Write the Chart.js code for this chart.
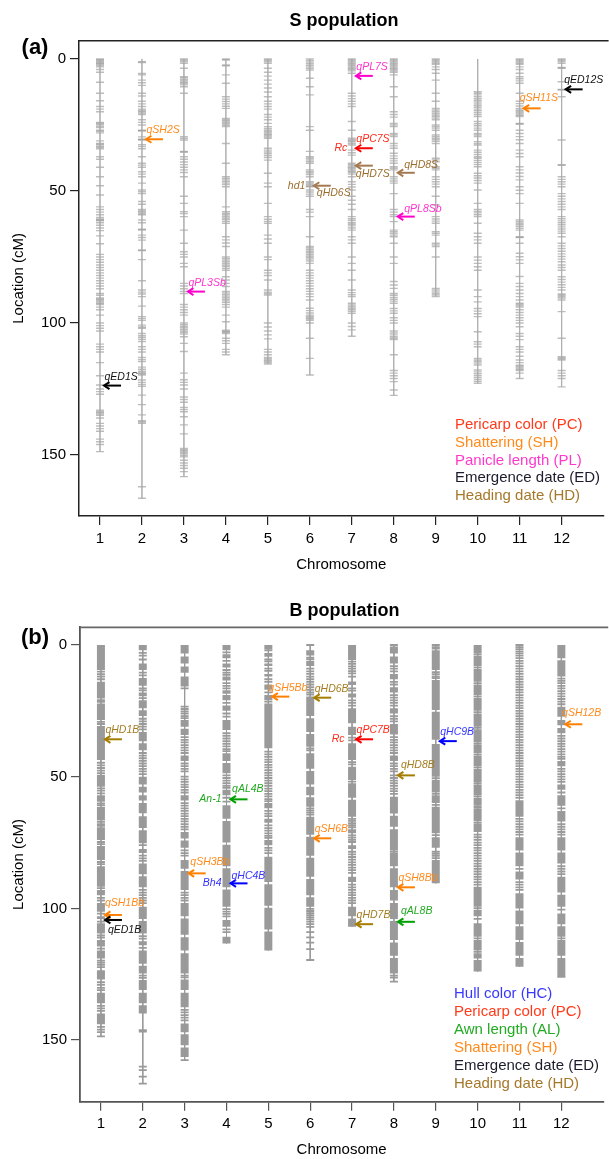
<!DOCTYPE html>
<html>
<head>
<meta charset="utf-8">
<script src="https://cdn.jsdelivr.net/npm/chart.js@4.4.1/dist/chart.umd.min.js"></script>
<style>
  html, body { margin: 0; padding: 0; background: #fff; }
  #wrap { position: relative; width: 609px; height: 1159px; overflow: hidden; }
  canvas { position: absolute; left: 0; }
  #cs { top: 0; }
  #cb { top: 590px; }
</style>
</head>
<body>
<div id="wrap">
  <canvas id="cs" width="609" height="590"></canvas>
  <canvas id="cb" width="609" height="569"></canvas>
</div>
<script>
const chromosomes = [1, 2, 3, 4, 5, 6, 7, 8, 9, 10, 11, 12];
const yTicks = [0, 50, 100, 150];

// S population: marker positions (cM) per chromosome
const sChr1 = [0,0.4,0.8,1.2,1.6,2,2.5,3,4,5,8.8,13,15.8,18,19,20,24,24.4,24.8,25.5,26,27,27.4,28,31,32,32.4,33,33.4,34,37,38,41,44.6,48,51.5,56,57,58,59,60,60.6,61,61.3,62,63,64,65,67,70,74,75,76,77,78,79,80,81,82,83,84,85,86,87,88.8,89.5,90.5,91,91.5,92,92.5,93,94,95,97,100,101,102,103,108,109,110,111,115,120,123.5,125,126,127,133,133.5,134,134.5,135,136,138,139,140,141,144,145,146,148.7];
const sChr2 = [1,1.3,5.5,6,8,9,10,13,14,16,17,18,19,19.5,20,20.5,21,23,24,25,27,27.3,29.5,30.4,30.7,32.5,33.2,34,37,39.5,40.2,41,42.7,43.6,44.6,47,49.6,50.3,51,54,55,57,57.6,58,58.5,59,61,62,64.5,64.8,66.7,67.6,68.6,72.3,72.6,76,84,87.5,88.3,89,90,93.6,97.6,98.3,99,100.8,101.5,102,104,104.8,105.5,106.2,107,109,110,111,113,113.8,114.6,116.7,117.5,118.3,118.8,119.2,119.7,121.6,122.5,123.3,124,127.3,130.9,134.8,137,137.5,138,162,166.4];
const sChr3 = [0,0.5,1,1.6,3.5,6.7,7.2,7.8,8.3,8.8,9.3,9.8,10.5,13,29.4,30,30.7,35,35.3,37,38,39,40,41,42,43,44.6,52,54.7,57.8,58.5,59.7,64.8,69.8,73,74,75,77.4,78.7,85,86,87,88,88.8,93,94,95,96,97,100,100.6,101.2,101.8,102.4,103,103.6,104.2,105.2,107.7,110.8,119,121.5,122.5,123.5,125,128,129,130,132,132.8,133.6,135.5,138.6,142,147.5,148,148.5,149,149.5,150.2,150.7,152,153,154,155,156.3,158.2];
const sChr4 = [0,0.4,2.3,2.6,6,9.2,14.3,15.2,16.1,17,17.9,18.7,22.5,23,23.5,24,24.5,25.1,25.6,32,39.5,44.6,45.2,45.8,46.4,47,47.6,48.4,56,57.8,58.4,59,59.6,60.2,60.8,61.5,62.2,67.3,68.5,69.7,71,75,75.6,76.2,76.8,77.4,78,78.6,79.3,80,82.5,83.7,85,86.2,88,88.6,89.2,89.8,90.4,91,91.6,92.2,93,94,97,99.5,102.7,103.1,103.5,104,105.8,106.7,107.7,110,111,112];
const sChr5 = [0,0.5,1,1.6,3.5,5,6.5,8,9.5,11,12.5,14.3,16,17,18,19,21,22,23,24.4,25.6,26.3,27,27.5,28,28.5,29,29.5,30,33.8,34.5,35.2,35.9,36.6,37.3,38.3,43.3,47,48.4,54.7,59.7,60.7,61.5,62.2,66.7,68.2,69.8,75,76,80,81,82,83.7,87.5,88.3,88.8,89.4,100,101.5,103,104.5,106,110,111,112,113,113.5,114,114.5,115,115.5];
const sChr6 = [0,0.6,1.2,1.8,2.4,3,3.6,4.2,7.3,10.5,13.6,25.6,27,35,37,37.6,38.2,38.8,39.5,42,42.6,43.2,43.8,44.6,46.5,47,47.5,48,48.4,49.6,50.4,51.2,52,57,58,59.7,67.3,71,71.6,72.2,72.8,73.4,74,74.6,75.2,75.8,76.5,77.4,80,81,82,83,84,85,86,87,88,89,90,91.3,94.4,95.3,96.2,97,97.5,98,98.5,99,100,105.8,113.4,119.7];
const sChr7 = [0,0.5,1,1.5,2,2.5,3,3.5,4,4.5,5.4,13,14,15,16,17,18,23.7,27,30,30.6,31,31.4,32,32.6,34.5,35.5,36.4,39.5,40,40.5,41,41.5,42,42.5,43,43.6,44.6,46.5,47.5,48.5,49.6,52,53.5,55,57,59.7,60.5,61.2,62,62.6,63.2,64,64.8,67.3,68.5,69.8,75,77.4,80,83.7,87.5,88.5,89.3,90,92.5,93.2,93.8,94.4,95,95.6,96.3,100,101.3,102.6,105];
const sChr8 = [0,0.5,1,1.5,2,2.5,3,3.5,4,4.5,5,6,10.5,14.3,20,21,22,24.4,25,25.6,28.2,28.8,29.4,32,32.9,33.8,35.7,36.7,37.7,38.6,39.5,40.8,41.4,42,44.6,45.4,46.2,47,51,57,58,59,59.7,61.6,64.8,65.4,66,66.7,67.3,69.8,75,77.4,84.3,85.6,86.9,88.8,89.5,90.3,91,91.7,92.5,94.5,95.4,96.3,98,99,100,103,103.8,104.5,105.2,105.8,106.3,112,118,119,120,121,122.2,125.4,127.4];
const sChr9 = [0,0.5,1,1.5,2,3,4,5.4,8,13,16,18.7,19.3,20,20.6,21.2,21.8,22.4,23,25,25.6,26.2,27,28.8,29.4,30,30.6,31.2,32,37.6,38.2,38.9,40.8,41.4,42,44.6,45.6,46.5,47.4,48.4,52,55.3,59.7,60.6,61.4,62.2,65.4,66,66.7,69.8,70.4,71,75,86.9,87.5,88.2,88.8,89.4,90];
const sChr10 = [12.4,13,13.6,14.3,15,15.6,16.3,17,17.6,18.3,19,19.6,20.3,21,21.8,23.7,24.5,25.3,26.2,27,28.2,28.8,29.4,31.3,32,32.6,34.5,35.3,36.2,37,37.6,38.4,39.2,40,40.8,43.3,44.2,45.1,46,47,49.6,54.7,57,57.7,58.3,59,59.7,62.2,66,67.3,68.5,69.8,75,76.2,77.4,78.7,80,87.5,90,92,94.5,95.5,96.5,97.6,103.3,107.1,108,109,113.4,114,114.6,115.2,115.9,117.8,118.5,119.2,120,120.7,121.4,122.1,122.8];
const sChr11 = [0,0.5,1,1.5,2,3,4,5.4,6.7,7.5,8.3,9.2,13,16,16.9,17.8,18.7,19.3,19.8,20.3,20.8,21.3,21.8,24.4,24.7,27,28.2,29.4,30.6,32,34.5,35.8,37,40.8,42,43.2,44.5,45.8,48.4,49.7,51,54.7,61,61.6,62.2,62.8,63.4,64.1,64.8,67.3,67.6,69.8,73.6,74.9,76.1,77.4,82.4,85,86.2,87.5,88.8,90,91.3,92.5,93,93.5,94,95,96,97,98,99,100,101.4,104,105,106.3,109,110,111,112.6,114,115,116,116.5,117,117.5,118,119,121];
const sChr12 = [0,0.5,1,1.6,3.2,3.5,8.6,11.5,11.8,14.3,30.7,40,40.3,44.6,45.6,46.5,47.4,48.4,51,52,53,54,55,56,57,59.7,60.5,61.3,62,62.8,63.6,64.4,65.2,66,67.3,69.8,70.8,71.8,72.8,73.8,74.8,75.8,76.8,78,79,80,82.5,83.5,84.5,85.5,86.5,87.5,89,89.5,90,90.5,91.3,95.7,105.8,112.8,113.2,113.6,114,118,119,120,121,124.2];
const sMaps = [sChr1, sChr2, sChr3, sChr4, sChr5, sChr6, sChr7, sChr8, sChr9, sChr10, sChr11, sChr12];

// S population QTLs
const sQtlName  = ['qSH2S', 'qPL3Sb', 'qPL7S', 'qPC7S', 'qHD7S', 'qHD6S', 'qHD8S', 'qPL8Sb', 'qSH11S', 'qED12S', 'qED1S'];
const sQtlChr   = [2, 3, 7, 7, 7, 6, 8, 8, 11, 12, 1];
const sQtlPos   = [30.4, 88.1, 6.4, 33.8, 40.4, 48.0, 43.1, 59.7, 18.7, 11.5, 123.7];
const sQtlTrait = ['SH', 'PL', 'PL', 'PC', 'HD', 'HD', 'HD', 'PL', 'SH', 'ED', 'ED'];
const sQtlGene  = ['', '', '', 'Rc', '', 'hd1', '', '', '', '', ''];
const sLegend = ['Pericarp color (PC)', 'Shattering (SH)', 'Panicle length (PL)', 'Emergence date (ED)', 'Heading date (HD)'];
const sLegendTrait = ['PC', 'SH', 'PL', 'ED', 'HD'];

// B population: solid marker blocks [start, end] and single markers (cM)
const bChr1Blocks = [[0,9.5],[14,20.3],[22.2,28.5],[30.8,43.7],[49.4,53.8],[57,59.5],[61.4,66.5],[69.2,74],[76.3,81.6],[84,91.8],[93,95],[98,101.3],[103,104],[105.6,109.5],[112,114.5],[116,119],[123.5,127],[132,136],[139.9,144]];
const bChr1Marks = [10.1,11.1,12,13,20.9,21.6,29.2,30,44.7,45.7,46.7,47.7,48.7,54.4,55.3,56.3,60.1,60.8,67.1,68,68.7,74.8,75.6,82.4,83.2,92.3,96,97,102,105,110.3,111.1,115.3,119.8,120.6,121.4,122.3,128,129,130.2,131,137,138,138.9,145,146,147,148.6];
const bChr2Blocks = [[0,2],[7,9.5],[12.5,15.5],[18,19.5],[21,24],[24.8,27],[33,36.5],[37.3,40],[50,53],[53.8,56],[57,59],[60,63.9],[65,69.5],[70.3,75.3],[77.5,79],[83,87],[87.8,92],[99.4,104],[104.8,109.5],[112.5,114],[116,121],[121.8,124.7],[127.2,131],[132,136],[136.8,139.9]];
const bChr2Marks = [3,4,5.5,10.5,11.5,16.5,17.2,20.2,28,29,30,31,32,41,42,43,44,45,46,47,48,49,76,80,81,82,93,94,95,96,97,98,110.5,111.5,115,125.5,126.4,146.2,146.8,160.1,161.4,163.9,166.5];
const bChr3Blocks = [[0,3.2],[4.4,7],[8.2,10.5],[12,15.8],[28.5,31],[31.8,34.2],[42,44],[57,59],[71,73.5],[74.2,77],[81.6,85],[85.8,93],[98,103],[103.8,110],[111,116],[117,124.7],[127,131],[132,137.5],[143.7,147],[147.8,152],[152.8,156.4]];
const bChr3Marks = [16.5,23.4,24.3,25.2,26,27,27.8,35,36,37,38,39,40,41,45,46,47,48,50,51,52,53,54,55,56,60,61,62,63,64,65,66,67,68,69,70,78,79,80,94,95,96,97,125.5,126.2,138.5,139.5,140.5,141.5,142.5,157.6];
const bChr4Blocks = [[0,2],[3.5,5],[7,8.5],[12,13.5],[19,21],[23,25],[28.5,32.3],[41.1,44],[44.8,48.7],[55,57],[60.8,66],[66.8,75],[75.8,84],[84.8,92],[92.8,99.4],[104.4,107],[110.8,113.3]];
const bChr4Marks = [2.8,6,9.5,10.5,11.3,14.5,15.5,16.5,17.5,18.2,22,26,27.2,33.5,34.5,35.5,36.5,37.5,38.5,39.5,40.3,49.5,50.5,51.5,52.5,53.5,54.2,58,59.5,100.3,101.2,102.1,103,108,109];
const bChr5Blocks = [[0,1.5],[3,4.5],[7,8],[11,12],[15,17],[19,21],[22.2,39.2],[60,62],[66,67.5],[74,76],[80.4,90],[90.8,99],[99.8,108],[108.8,116]];
const bChr5Marks = [2,5.5,6.2,9,9.8,13,14,18,21.5,40.5,41.5,42.5,43.5,44.5,45.5,46.5,47.5,48.5,49.5,50.5,51.5,52.5,53.5,54.5,55.5,56.5,57.5,58.5,59.3,63,64,65,68.5,69.5,70.5,71.5,72.5,73.2,77,78,79];
const bChr6Blocks = [[2,4],[6,8],[19.6,27],[27.8,33],[33.8,38.6],[41.1,47],[47.8,53],[53.8,57],[57.8,61.4],[65.2,72],[72.8,80],[80.8,88],[88.8,95],[95.8,99.4]];
const bChr6Marks = [0,4.8,5.4,9,10,11,12,13,14,15,16,17,18,18.8,39.3,40,62,62.8,63.6,64.4,100.2,101,101.8,102.6,103.4,104.2,105,106,107,109,111,113,115.5,119.6];
const bChr7Blocks = [[0,5.7],[13.9,15.2],[18.4,19.9],[24,29.7],[31,34.2],[37.3,43.7],[46.2,51.3],[52.5,58],[58.8,65.2],[70,71.5],[76,77.5],[88,90],[99.4,103],[103.8,107]];
const bChr7Marks = [6.3,7.2,8.1,9,9.9,10.8,12,16.5,17.3,21,22,23,35.2,36.2,44.5,45.3,51.9,66,66.8,67.6,68.4,69.2,72.3,73.1,74,74.8,78.5,79.5,80.5,81.5,82.5,83.5,84.5,85.5,86.5,91,92,93,94,95,96,97,98];
const bChr8Blocks = [[0.6,3.2],[4.4,7],[11,13],[16,18],[24,26],[30,34],[42,44],[57.6,64],[64.8,69],[70,78],[79,84],[84.8,92],[93,97],[98,104],[104.8,112],[113,118],[118.8,124.7]];
const bChr8Marks = [0,8,9,10,14,15,19,20,21,22,23,27,28,29,35,36,37,38,39,40,41,45,46,47,48,49.5,50.5,51.5,52.5,53.5,54.5,55.5,56.5,78.5,125.5,126.3,127.8];
const bChr9Blocks = [[2,9.5],[13.3,24.7],[25.3,36],[37.6,50],[51.3,56],[57,60],[61.4,71.5],[73,77],[81.6,90.5]];
const bChr9Marks = [0,0.8,1.4,10.3,11.1,12,12.6,50.6,56.5,60.7,72.2,78.5,79.3,80.1,80.9];
const bChr10Blocks = [[0,3],[4,8],[9,14],[15,19],[20,25],[26,31],[32,37],[38,41],[42,46],[47,52],[53,57],[58,61],[62,67],[68,71],[91.8,99.4],[100.5,103],[105.6,110.8],[112,116],[117,119],[119.6,124]];
const bChr10Marks = [3.5,8.5,14.5,19.5,25.5,31.5,37.5,41.5,46.5,52.5,57.5,61.5,67.5,72,73,74,75,76,77,78,79,80,81,82,83,84,85,86,87,88,89,90,91,99.9,104,111.4,116.5];
const bChr11Blocks = [[58.9,65.2],[73,78],[78.8,84],[86,89],[94.3,100],[100.8,106],[106.8,112],[112.8,118],[118.8,122.2]];
const bChr11Marks = [0,0.8,1.6,2.4,3.2,4,5,6,7,8,9,10,11,12,13,14,15,16,17,18,19,20,21,22,23,24,25,26,27,28,29,30,31,32,33,34,35,36,37,38,39,40,41,42,43,44,45,46,47,48,49,50,51,52,53,54,55,56,57,58,66,67,68,69,70,71,72,85,90,91,92,93];
const bChr12Blocks = [[0,5],[5.8,12],[23.4,27.2],[28.5,30.5],[31.5,33.5],[44,46],[53,55],[57,61],[63,67],[73,78],[78.8,83],[88,94],[94.8,99.4],[101.9,106],[106.8,110.8],[112,118],[118.8,125.9]];
const bChr12Marks = [12.8,13.6,14.5,15.5,16.5,17.5,18.5,19.5,20.5,21.5,22.5,34.5,35.5,36.5,37.5,38.5,39.5,40.5,41.5,42.5,43.2,47,48,49,50,51,52,56,62,68,69,70,71,72,84,85,86,87,100.5,111.4,126];
const bBlocks = [bChr1Blocks, bChr2Blocks, bChr3Blocks, bChr4Blocks, bChr5Blocks, bChr6Blocks, bChr7Blocks, bChr8Blocks, bChr9Blocks, bChr10Blocks, bChr11Blocks, bChr12Blocks];
const bMarks = [bChr1Marks, bChr2Marks, bChr3Marks, bChr4Marks, bChr5Marks, bChr6Marks, bChr7Marks, bChr8Marks, bChr9Marks, bChr10Marks, bChr11Marks, bChr12Marks];

// B population QTLs
const bQtlName  = ['qHD1B', 'qSH1Bb', 'qED1B', 'qSH3Bb', 'qAL4B', 'qHC4B', 'qSH5Bb', 'qHD6B', 'qSH6B', 'qPC7B', 'qHD7B', 'qHD8B', 'qSH8Bb', 'qAL8B', 'qHC9B', 'qSH12B'];
const bQtlChr   = [1, 1, 1, 3, 4, 4, 5, 6, 6, 7, 7, 8, 8, 8, 9, 12];
const bQtlPos   = [35.8, 102.5, 104.4, 86.7, 58.6, 90.5, 19.6, 20.0, 73.4, 35.8, 106.0, 49.5, 92.0, 105.1, 36.5, 30.1];
const bQtlTrait = ['HD', 'SH', 'ED', 'SH', 'AL', 'HC', 'SH', 'HD', 'SH', 'PC', 'HD', 'HD', 'SH', 'AL', 'HC', 'SH'];
const bQtlGene  = ['', '', '', '', 'An-1', 'Bh4', '', '', '', 'Rc', '', '', '', '', '', ''];
const bLegend = ['Hull color (HC)', 'Pericarp color (PC)', 'Awn length (AL)', 'Shattering (SH)', 'Emergence date (ED)', 'Heading date (HD)'];
const bLegendTrait = ['HC', 'PC', 'AL', 'SH', 'ED', 'HD'];

// ---- styles ----
const FONT = '"Liberation Sans", Arial, sans-serif';
Chart.defaults.font.family = FONT;
Chart.defaults.color = '#000';

const arrowColS = { PC: '#ff0000', SH: '#ff8000', PL: '#ff00cc', ED: '#000000', HD: '#a57a52', HC: '#0000ff', AL: '#00a000' };
const textColS  = { PC: '#ff2a1a', SH: '#ff8a1c', PL: '#ff33cc', ED: '#111111', HD: '#9a6c2c', HC: '#3333ff', AL: '#22aa22' };
const arrowColB = Object.assign({}, arrowColS, { HD: '#a57d00' });
const textColB  = Object.assign({}, textColS, { HD: '#a47c20' });
const legendCol = { PC: '#ff3a1a', SH: '#ff8a1c', PL: '#ff38cc', ED: '#1c1c2c', HD: '#a5782a', HC: '#3838ff', AL: '#22aa22' };

// label offsets relative to arrow tip anchor (chromosome x, QTL y)
const labelOffset = {
  qHD7S: [4, 8], qHD6S: [7, 7.5], qED1B: [7, 10.5], qHD8S: [10.5, -8], qPL8Sb: [10.5, -8],
  qSH11S: [0, -10], qED12S: [2.5, -9], qSH5Bb: [0, -9], qSH12B: [0.7, -11], qHD8B: [7, -10],
  qAL8B: [7, -10.7], qAL4B: [5.6, -10], qSH1Bb: [4, -11.5], qSH3Bb: [5.7, -11], qHC4B: [5, -7.5]
};
const geneOffset = { Rc: -4.5, hd1: -4.5, 'An-1': -5, Bh4: -5 };

function overlayPlugin(p) {
  return {
    id: 'overlay_' + p.letter,
    afterDatasetsDraw(chart) {
      const ctx = chart.ctx, xs = chart.scales.x, ys = chart.scales.y, a = chart.chartArea;
      ctx.save();
      // top border of the box
      ctx.strokeStyle = p.borderColor; ctx.lineWidth = p.borderWidth;
      ctx.beginPath(); ctx.moveTo(a.left, a.top); ctx.lineTo(a.right + 5, a.top); ctx.stroke();
      // QTL arrows + labels
      p.names.forEach((name, i) => {
        const px = xs.getPixelForValue(p.chr[i]);
        const py = ys.getPixelForValue(p.pos[i]);
        const t = p.trait[i];
        ctx.strokeStyle = p.arrowCol[t]; ctx.lineWidth = 2; ctx.lineCap = 'butt';
        ctx.beginPath(); ctx.moveTo(px + 21, py); ctx.lineTo(px + 5, py); ctx.stroke();
        ctx.beginPath(); ctx.moveTo(px + 9.5, py - 3.5); ctx.lineTo(px + 4, py); ctx.lineTo(px + 9.5, py + 3.5); ctx.stroke();
        ctx.font = 'italic 10.5px ' + FONT;
        ctx.fillStyle = p.textCol[t];
        ctx.textBaseline = 'middle';
        const off = labelOffset[name] || [4.5, -9];
        ctx.textAlign = 'left';
        ctx.fillText(name, px + off[0], py + off[1]);
        const g = p.gene[i];
        if (g) {
          ctx.textAlign = 'right';
          ctx.fillText(g, px + (g === 'Rc' && p.letter === '(b)' ? -7.5 : geneOffset[g]), py);
        }
      });
      // legend text
      ctx.font = '15px ' + FONT; ctx.textAlign = 'left'; ctx.textBaseline = 'middle';
      p.legend.forEach((txt, i) => {
        ctx.fillStyle = legendCol[p.legendTrait[i]];
        ctx.fillText(txt, p.legendX, p.legendY + i * p.legendStep);
      });
      // panel title and letter
      ctx.fillStyle = '#000'; ctx.textAlign = 'center';
      ctx.font = 'bold 18px ' + FONT;
      ctx.fillText(p.title, (a.left + 609) / 2, 20.7);
      ctx.font = 'bold 22px ' + FONT;
      ctx.fillText(p.letter, 35, 48);
      ctx.restore();
    }
  };
}

function scalesFor(yMin, yMax, yWidth, xHeight, axisColor, axisWidth, xTitlePad) {
  return {
    x: {
      type: 'linear', min: 0.5, max: 13,
      afterBuildTicks: s => { s.ticks = chromosomes.map(v => ({ value: v })); },
      afterFit: s => { s.height = xHeight; },
      ticks: { autoSkip: false, maxRotation: 0, padding: 4.5, font: { size: 15 }, color: '#000' },
      grid: { drawOnChartArea: false, drawTicks: true, tickLength: 9, color: axisColor, lineWidth: 1.2 },
      border: { display: true, color: axisColor, width: axisWidth },
      title: { display: true, text: 'Chromosome', font: { size: 15 }, color: '#000', padding: { top: 0, bottom: xTitlePad } }
    },
    y: {
      type: 'linear', reverse: true, min: yMin, max: yMax,
      afterBuildTicks: s => { s.ticks = yTicks.map(v => ({ value: v })); },
      afterFit: s => { s.width = yWidth; },
      ticks: { padding: 4, font: { size: 15 }, color: '#000' },
      grid: { drawOnChartArea: false, drawTicks: true, tickLength: 9, color: axisColor, lineWidth: 1.2 },
      border: { display: true, color: axisColor, width: axisWidth },
      title: { display: true, text: 'Location (cM)', font: { size: 15 }, color: '#000', padding: { top: 10, bottom: 0 } }
    }
  };
}

function backbone(lengths) {
  const pts = [];
  lengths.forEach((len, i) => {
    const c = chromosomes[i];
    pts.push({ x: c, y: 0 }, { x: c, y: len }, { x: c, y: null });
  });
  return pts;
}

const baseOptions = {
  responsive: false, animation: false, events: [],
  plugins: { legend: { display: false }, tooltip: { enabled: false }, title: { display: false } }
};

// ---- S population ----
const sLengths = sMaps.map(m => Math.max(...m));
new Chart(document.getElementById('cs'), {
  type: 'scatter',
  data: {
    datasets: [
      {
        label: 'backbone', data: backbone(sLengths), showLine: true,
        borderColor: 'rgba(170,170,170,0.7)', borderWidth: 1, pointRadius: 0
      },
      {
        label: 'markers',
        data: sMaps.flatMap((m, i) => m.map(v => ({ x: chromosomes[i], y: v }))),
        pointStyle: 'line', pointRadius: 4, pointHoverRadius: 4,
        borderColor: 'rgba(90,90,90,0.4)', borderWidth: 1.4
      }
    ]
  },
  options: Object.assign({}, baseOptions, {
    layout: { padding: { top: 40.7, left: 0, right: 0, bottom: 0 } },
    scales: scalesFor(-6.93, 173.1, 79, 74, '#222', 1.5, 16)
  }),
  plugins: [overlayPlugin({
    letter: '(a)', title: 'S population', borderColor: '#222', borderWidth: 1.5,
    names: sQtlName, chr: sQtlChr, pos: sQtlPos, trait: sQtlTrait, gene: sQtlGene,
    arrowCol: arrowColS, textCol: textColS,
    legend: sLegend, legendTrait: sLegendTrait, legendX: 455, legendY: 425, legendStep: 17.75
  })]
});

// ---- B population ----
const bLengths = bMarks.map((m, i) => Math.max(...m, ...bBlocks[i].flat()));
new Chart(document.getElementById('cb'), {
  type: 'scatter',
  data: {
    datasets: [
      {
        label: 'backbone', data: backbone(bLengths), showLine: true,
        borderColor: '#9a9a9a', borderWidth: 1, pointRadius: 0
      },
      {
        label: 'blocks',
        data: bBlocks.flatMap((bl, i) => bl.flatMap(([s, e]) => [
          { x: chromosomes[i], y: s }, { x: chromosomes[i], y: e }, { x: chromosomes[i], y: null }
        ])),
        showLine: true, borderColor: '#9a9a9a', borderWidth: 8, borderCapStyle: 'butt', pointRadius: 0
      },
      {
        label: 'markers',
        data: bMarks.flatMap((m, i) => m.map(v => ({ x: chromosomes[i], y: v }))),
        pointStyle: 'line', pointRadius: 4, pointHoverRadius: 4,
        borderColor: '#9a9a9a', borderWidth: 1.8
      }
    ]
  },
  options: Object.assign({}, baseOptions, {
    layout: { padding: { top: 37.3, left: 0, right: 0, bottom: 0 } },
    scales: scalesFor(-6.72, 173.4, 80, 57.3, '#555', 1.8, 0)
  }),
  plugins: [overlayPlugin({
    letter: '(b)', title: 'B population', borderColor: '#666', borderWidth: 1.8,
    names: bQtlName, chr: bQtlChr, pos: bQtlPos, trait: bQtlTrait, gene: bQtlGene,
    arrowCol: arrowColB, textCol: textColB,
    legend: bLegend, legendTrait: bLegendTrait, legendX: 454, legendY: 404, legendStep: 18
  })]
});
</script>
</body>
</html>
